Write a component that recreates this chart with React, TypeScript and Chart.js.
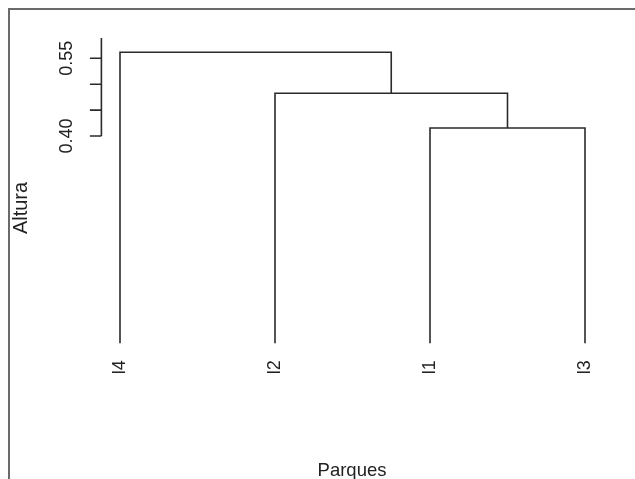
import React, { useEffect, useRef } from "react";
import { Chart, registerables } from "chart.js";

Chart.register(...registerables);

// ---- data ----
const leafLabels = ["l4", "l2", "l1", "l3"];
// R-style merge matrix: negative = leaf (position in leafLabels, 1-based), positive = earlier merge
const mergeLeft = [-3, -2, -1];
const mergeRight = [-4, 1, 2];
const mergeHeights = [0.4155, 0.4824, 0.5616];
const yTicks = [0.4, 0.45, 0.5, 0.55];
const yTickLabels = ["0.40", "", "", "0.55"];
const yAxisTop = 0.589;
const xTitle = "Parques";
const yTitle = "Altura";

const FONT = '"Liberation Sans", Arial, Helvetica, sans-serif';
const LINE = "#2a2a2a";

function buildSegments() {
  const nodes: { x: number; h: number }[] = [];
  const get = (id: number) =>
    id < 0 ? { x: -id, h: 0 } : nodes[id - 1];
  const segs: { x: number; y: number }[][] = [];
  for (let i = 0; i < mergeHeights.length; i++) {
    const l = get(mergeLeft[i]);
    const r = get(mergeRight[i]);
    const h = mergeHeights[i];
    segs.push([
      { x: l.x, y: l.h },
      { x: l.x, y: h },
      { x: r.x, y: h },
      { x: r.x, y: r.h },
    ]);
    nodes.push({ x: (l.x + r.x) / 2, h });
  }
  return segs;
}

const decorPlugin = {
  id: "decor",
  afterDraw(chart: any) {
    const ctx = chart.ctx as CanvasRenderingContext2D;
    const xs = chart.scales.x;
    const ys = chart.scales.y;
    ctx.save();
    // frame (top and left)
    ctx.strokeStyle = "#6a6a6a";
    ctx.lineWidth = 2;
    ctx.beginPath();
    ctx.moveTo(9, chart.height);
    ctx.lineTo(9, 9);
    ctx.lineTo(chart.width, 9);
    ctx.stroke();

    // y axis
    const axX = chart.chartArea.left;
    ctx.strokeStyle = LINE;
    ctx.lineWidth = 1.6;
    ctx.beginPath();
    ctx.moveTo(axX, ys.getPixelForValue(yAxisTop));
    ctx.lineTo(axX, ys.getPixelForValue(yTicks[0]));
    yTicks.forEach((t) => {
      const py = ys.getPixelForValue(t);
      ctx.moveTo(axX, py);
      ctx.lineTo(axX - 11.5, py);
    });
    ctx.stroke();

    ctx.fillStyle = "#222";
    ctx.font = `18px ${FONT}`;
    ctx.textAlign = "center";
    ctx.textBaseline = "middle";
    yTicks.forEach((t, i) => {
      if (!yTickLabels[i]) return;
      const py = ys.getPixelForValue(t);
      ctx.save();
      ctx.translate(axX - 34, py);
      ctx.rotate(-Math.PI / 2);
      ctx.fillText(yTickLabels[i], 0, 0);
      ctx.restore();
    });

    // leaf labels
    const y0 = ys.getPixelForValue(0);
    leafLabels.forEach((lab, i) => {
      const px = xs.getPixelForValue(i + 1);
      ctx.save();
      ctx.translate(px, y0 + 17);
      ctx.rotate(-Math.PI / 2);
      ctx.textAlign = "right";
      ctx.textBaseline = "middle";
      ctx.fillText(lab, 0, 0);
      ctx.restore();
    });

    // titles
    ctx.textAlign = "center";
    ctx.textBaseline = "alphabetic";
    ctx.font = `18.5px ${FONT}`;
    ctx.fillText(xTitle, 352, 476);
    ctx.font = `20px ${FONT}`;
    ctx.save();
    ctx.translate(27, 208);
    ctx.rotate(-Math.PI / 2);
    ctx.fillText(yTitle, 0, 0);
    ctx.restore();
    ctx.restore();
  },
};

export default function App() {
  const ref = useRef<HTMLCanvasElement | null>(null);
  useEffect(() => {
    document.body.style.margin = "0";
    const segs = buildSegments();
    const chart = new Chart(ref.current!, {
      type: "scatter",
      data: {
        datasets: segs.map((s) => ({
          data: s,
          showLine: true,
          borderColor: LINE,
          borderWidth: 1.6,
          pointRadius: 0,
          pointHoverRadius: 0,
          tension: 0,
          fill: false,
        })),
      },
      options: {
        animation: false,
        responsive: false,
        maintainAspectRatio: false,
        layout: { padding: { left: 101.4, right: 31.4, top: 32.4, bottom: 84 } },
        plugins: { legend: { display: false }, tooltip: { enabled: false } },
        scales: {
          x: { type: "linear", min: 0.88, max: 4.12, display: false },
          y: { type: "linear", min: -0.1, max: 0.6, display: false },
        },
      },
      plugins: [decorPlugin],
    });
    return () => chart.destroy();
  }, []);
  return (
    <div style={{ width: 635, height: 479, background: "#fff" }}>
      <canvas ref={ref} width={635} height={479} style={{ display: "block" }} />
    </div>
  );
}
